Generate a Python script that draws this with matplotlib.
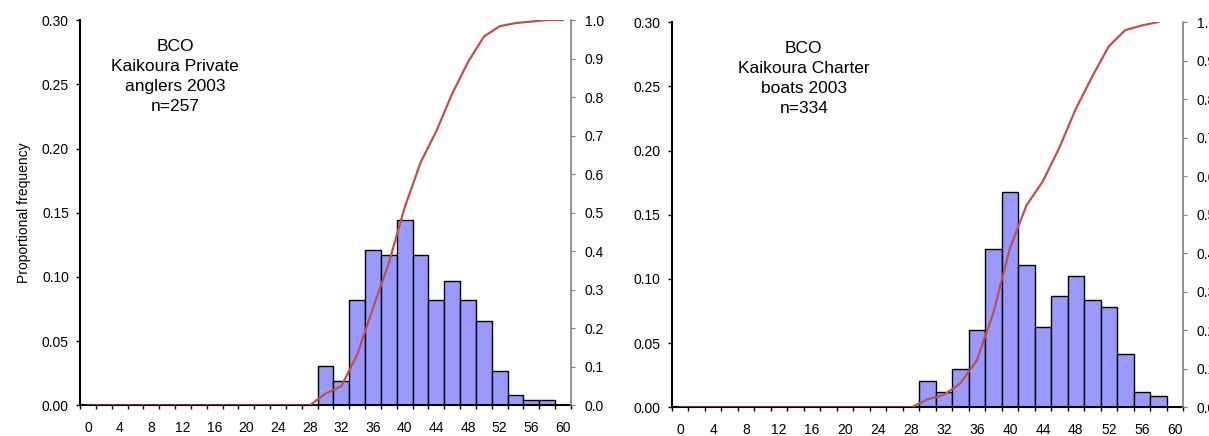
import matplotlib
matplotlib.use("Agg")
import matplotlib.pyplot as plt

plt.rcParams['font.family'] = ['Liberation Sans', 'DejaVu Sans']

# length classes (cm), one bar per class
lengths = list(range(0, 62, 2))

# Kaikoura private anglers 2003
private_freq = [0] * 15 + [0.031, 0.019, 0.082, 0.121, 0.117, 0.144, 0.117, 0.082,
                           0.097, 0.082, 0.066, 0.027, 0.008, 0.004, 0.004, 0.0]
private_cum = [0] * 15 + [0.031, 0.050, 0.132, 0.253, 0.370, 0.514, 0.630, 0.712,
                          0.809, 0.891, 0.957, 0.984, 0.992, 0.996, 1.000, 1.000]
private_text = "BCO\nKaikoura Private\nanglers 2003\nn=257"

# Kaikoura charter boats 2003
charter_freq = [0] * 15 + [0.021, 0.012, 0.030, 0.060, 0.123, 0.168, 0.111, 0.063,
                           0.087, 0.102, 0.084, 0.078, 0.042, 0.012, 0.009, 0.0]
charter_cum = [0] * 15 + [0.021, 0.033, 0.063, 0.123, 0.246, 0.413, 0.524, 0.587,
                          0.674, 0.775, 0.859, 0.937, 0.979, 0.991, 1.000]
charter_text = "BCO\nKaikoura Charter\nboats 2003\nn=334"

BAR_COLOR = '#9999FF'
LINE_COLOR = '#C0504D'
GREY = '#808080'


def plot_panel(fig, rect, freq, cum, label, text_x, ylabel=None):
    ax = fig.add_axes(rect)
    ax.bar(lengths, freq, width=2, color=BAR_COLOR, edgecolor='black', linewidth=1.0, zorder=2)

    ax.set_xlim(-1, 61)
    ax.set_ylim(0, 0.30)
    ax.set_yticks([0, 0.05, 0.10, 0.15, 0.20, 0.25, 0.30])
    ax.set_yticklabels(['%.2f' % v for v in ax.get_yticks()])
    # tick marks between classes, labels every second class
    ax.set_xticks(range(-1, 62, 2))
    ax.set_xticklabels([])
    ax.set_xticks(range(0, 61, 4), minor=True)
    ax.set_xticklabels([str(v) for v in range(0, 61, 4)], minor=True)
    ax.tick_params(axis='x', which='major', direction='out', length=3, width=1)
    ax.tick_params(axis='x', which='minor', length=0, pad=11, labelsize=10)
    ax.tick_params(axis='y', direction='out', length=3, width=1, pad=5, labelsize=10)

    ax.spines['top'].set_visible(False)
    ax.spines['right'].set_visible(False)
    ax.spines['left'].set_linewidth(1.5)
    ax.spines['bottom'].set_linewidth(1.5)

    if ylabel:
        ax.set_ylabel(ylabel, fontsize=10, labelpad=8)

    ax.text(text_x, 0.285, label, ha='center', va='top', fontsize=12.5, linespacing=1.4)

    # cumulative proportion on the secondary axis
    ax2 = ax.twinx()
    ax2.plot(lengths[:len(cum)], cum, color=LINE_COLOR, linewidth=1.6, zorder=3)
    ax2.set_ylim(0, 1.0)
    ax2.set_yticks([i / 10 for i in range(11)])
    ax2.set_yticklabels(['%.1f' % (i / 10) for i in range(11)])
    ax2.tick_params(axis='y', direction='out', length=3, color=GREY, pad=7, labelsize=10)
    for s in ['top', 'left', 'bottom']:
        ax2.spines[s].set_visible(False)
    ax2.spines['right'].set_color(GREY)
    ax2.spines['right'].set_linewidth(1.2)
    return ax, ax2


fig = plt.figure(figsize=(12.09, 4.36), dpi=100)

plot_panel(fig, [0.0662, 0.0700, 0.4061, 0.8841], private_freq, private_cum,
           private_text, 11, ylabel='Proportional frequency')
plot_panel(fig, [0.5558, 0.0654, 0.4227, 0.8841], charter_freq, charter_cum,
           charter_text, 15)

fig.savefig('out.png', dpi=100)
plt.close(fig)
